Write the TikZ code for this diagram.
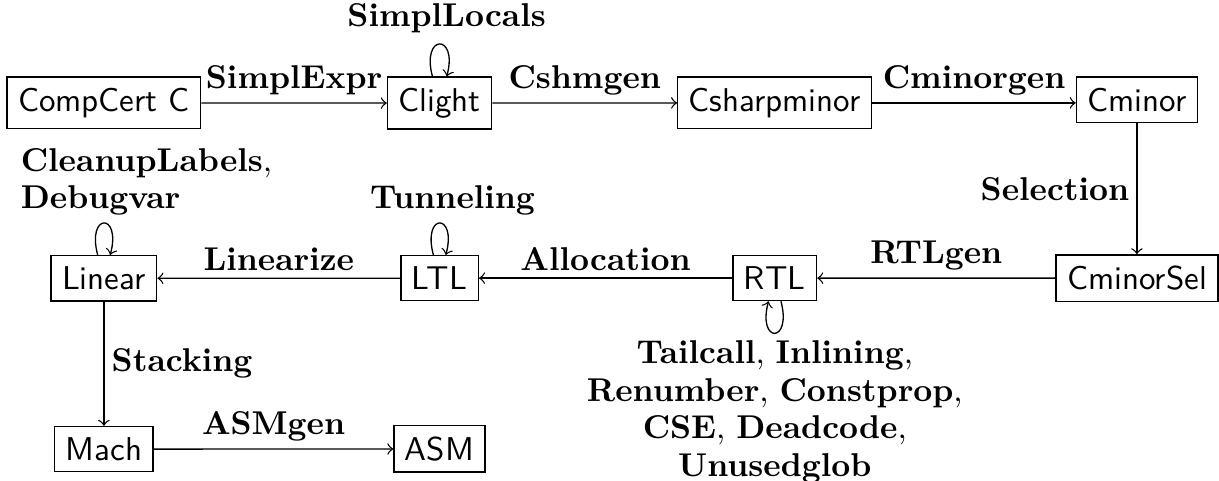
\documentclass[tikz,border=0pt]{standalone}
\usetikzlibrary{positioning}
\tikzset{
  lang/.style={draw, font=\sffamily, anchor=base},
  pass/.style={font=\bfseries, inner sep=0.5ex},
  passes/.style={font=\fontsize{10}{11.4}\selectfont, inner sep=0.5ex},
  every loop/.style={min distance=4.7mm},
}
\begin{document}
\begin{tikzpicture}[>=to]
  \useasboundingbox (0,0) rectangle (12.995,5.117);
  % languages
  \node[lang] (compcert) at (1.108,3.930) {CompCert C};
  \node[lang] (clight) at (4.686,3.930) {Clight};
  \node[lang] (csharp) at (8.259,3.930) {Csharpminor};
  \node[lang] (cminor) at (12.120,3.930) {Cminor};
  \node[lang] (linear) at (1.108,2.030) {Linear};
  \node[lang] (ltl) at (4.686,2.030) {LTL};
  \node[lang] (rtl) at (8.259,2.030) {RTL};
  \node[lang] (cminorsel) at (12.120,2.030) {CminorSel};
  \node[lang] (mach) at (1.108,0.209) {Mach};
  \node[lang] (asm) at (4.686,0.209) {ASM};
  % passes
  \draw[->] (compcert) -- node[above, pass] {SimplExpr} (clight);
  \draw[->] (clight) -- node[above, pass] {Cshmgen} (csharp);
  \draw[->] (csharp) -- node[above, pass] {Cminorgen} (csharp -| cminor.west);
  \draw[->] (cminor) -- node[left, pass] {Selection} (cminorsel);
  \draw[->] (cminorsel) -- node[above, pass] {RTLgen} (rtl);
  \draw[->] (rtl) -- node[above, pass] {Allocation} (ltl);
  \draw[->] (ltl) -- node[above, pass] {Linearize} (linear);
  \draw[->] (linear) -- node[right, pass] {Stacking} (mach);
  \draw[->] (mach) -- node[above, pass] {ASMgen} (asm);
  % optimisations
  \path (clight) edge[->, loop above] node[above, pass, xshift=0.075cm, yshift=1pt] {SimplLocals} ();
  \path (ltl) edge[->, loop above] node[above, pass, xshift=0.138cm] {Tunneling} ();
  \path (linear) edge[->, loop above] node[above, passes, align=left, xshift=0.453cm]
    {\textbf{CleanupLabels},\\\textbf{Debugvar}} ();
  \path (rtl) edge[->, loop below] node[below, passes, align=center]
    {\textbf{Tailcall}, \textbf{Inlining},\\\textbf{Renumber}, \textbf{Constprop},\\
     \textbf{CSE}, \textbf{Deadcode},\\\textbf{Unusedglob}} ();
\end{tikzpicture}
\end{document}
